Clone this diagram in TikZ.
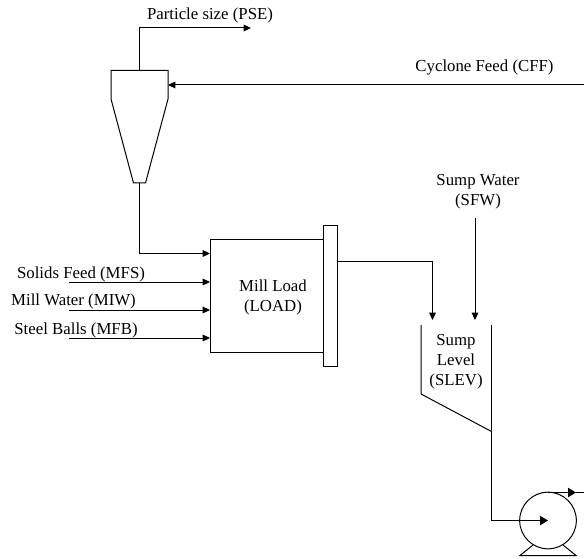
\documentclass[tikz,border=0pt]{standalone}
\usepackage{fontspec}
\setmainfont{Liberation Serif}
\usetikzlibrary{arrows.meta}
\tikzset{
  pipe/.style={line width=0.75pt,line join=miter},
  flow/.style={pipe,-{Triangle[length=5.5pt,width=5pt]}},
  bigflow/.style={pipe,-{Triangle[length=6pt,width=7pt]}},
  vessel/.style={line width=0.75pt,draw=black,fill=white,line join=miter},
  lbl/.style={inner sep=0pt,font=\fontsize{12.6pt}{15pt}\selectfont,align=center,text=black},
}
\begin{document}
\begin{tikzpicture}[x=0.75pt,y=-0.75pt]
\useasboundingbox (0,0) rectangle (584,559);
% anchors
\coordinate (cffin) at (584,85);
\coordinate (pseout) at (251,28);
\coordinate (pseelb) at (139.5,28);
\coordinate (cyctop) at (139.5,70.5);
\coordinate (cycbot) at (139.5,183);
\coordinate (cycin) at (168,85);
\coordinate (elbA) at (139.5,253.5);
\coordinate (loadA) at (210,253.5);
\coordinate (mfsS) at (69,282);
\coordinate (mfsE) at (210,282);
\coordinate (miwS) at (69,310);
\coordinate (miwE) at (210,310);
\coordinate (mfbS) at (69,338);
\coordinate (mfbE) at (210,338);
\coordinate (outS) at (337,261);
\coordinate (outB) at (432.5,261);
\coordinate (outE) at (432.5,320);
\coordinate (sfwS) at (475,218);
\coordinate (sfwE) at (475,320);
\coordinate (sumpB) at (491.5,520.5);
\coordinate (pumpC) at (548,520.5);
\coordinate (pumpT) at (548,492.5);
\coordinate (pumpO) at (576,492.5);
\coordinate (pumpR) at (584,492.5);
% vessels
\draw[vessel] (111,70.5) -- (168,70.5) -- (168,99) -- (145.5,183) -- (133.5,183) -- (111,99) -- cycle;
\draw[vessel] (323,239.5) -- (210,239.5) -- (210,352) -- (323,352);
\draw[vessel] (323,225.5) rectangle (337,366);
\draw[pipe] (421,325) -- (421,394) -- (491.5,431.5);
\draw[pipe] (491.5,325) -- (sumpB);
% pump
\draw[vessel] (533,545) -- (520,555.5) -- (576,555.5) -- (563,545);
\node[circle,draw,fill=white,line width=0.75pt,minimum size=42.5pt,inner sep=0pt] (pump) at (pumpC) {};
% connectors
\draw[flow] (cyctop) -- (pseelb) -- (pseout);
\draw[flow] (cffin) -- (cycin);
\draw[flow] (cycbot) -- (elbA) -- (loadA);
\draw[flow] (mfsS) -- (mfsE);
\draw[flow] (miwS) -- (miwE);
\draw[flow] (mfbS) -- (mfbE);
\draw[flow] (outS) -- (outB) -- (outE);
\draw[flow] (sfwS) -- (sfwE);
\draw[bigflow] (sumpB) -- (pumpC);
\draw[bigflow] (pumpT) -- (pumpO);
\draw[pipe] (pumpO) -- (pumpR);
% labels
\node[lbl] (pse) at (210,15.5) {Particle size (PSE)};
\node[lbl] (cff) at (484.5,67) {Cyclone Feed (CFF)};
\node[lbl] (sfw) at (478,191.5) {Sump Water\\(SFW)};
\node[lbl] (load) at (273,297.5) {Mill Load\\(LOAD)};
\node[lbl] (slev) at (456,361.5) {Sump\\Level\\(SLEV)};
\node[lbl] (mfs) at (81,274) {Solids Feed (MFS)};
\node[lbl] (miw) at (73.5,301.5) {Mill Water (MIW)};
\node[lbl] (mfb) at (76,330.5) {Steel Balls (MFB)};
\end{tikzpicture}
\end{document}
